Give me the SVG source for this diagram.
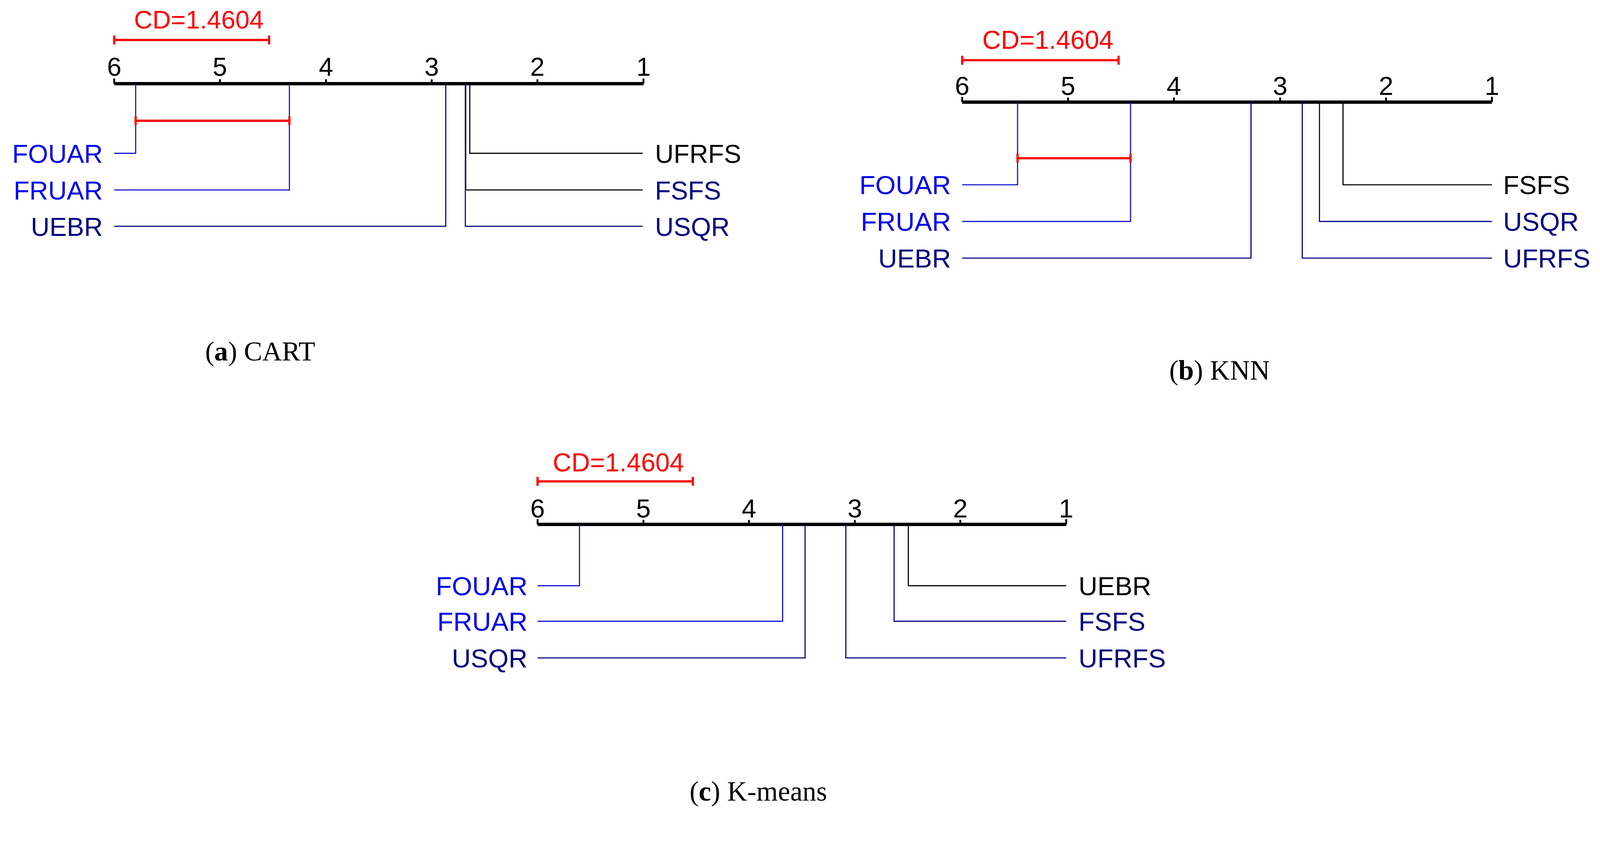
<svg xmlns="http://www.w3.org/2000/svg" width="4277" height="2179" viewBox="0 0 4277 2179">
<style>
.ax{stroke:#000;stroke-width:9;fill:none}
.tk{stroke:#000;stroke-width:5}
.num{font-family:"Liberation Sans",Arial,sans-serif;font-size:70px;fill:#000;text-anchor:middle}
.cd{font-family:"Liberation Sans",Arial,sans-serif;font-size:69px;fill:#ff0000;text-anchor:middle}
.red{stroke:#ff0000;stroke-width:6;fill:none}
.lbl{font-family:"Liberation Sans",Arial,sans-serif;font-size:70px}
.l{text-anchor:end}
.b{fill:#0000ee}.n{fill:#000080}.k{fill:#000}
.cb{stroke:#1010d0;stroke-width:3;fill:none}
.cn{stroke:#000080;stroke-width:3;fill:none}
.ck{stroke:#000;stroke-width:3;fill:none}
.cap{font-family:"Liberation Serif","Times New Roman",serif;font-size:74px;fill:#000;text-anchor:middle}
</style>
<rect width="4277" height="2179" fill="#fff"/>
<g transform="scale(0.9577)">
<g id="panelA" transform="scale(0.988 0.99)">
<text class="cd" x="538" y="77">CD=1.4604</text>
<path class="red" d="M309 108H728M309 96V120M728 96V120"/>
<path class="ax" d="M309 226H1741"/>
<path class="tk" d="M309 226V212M595 226V214M882 226V214M1168 226V214M1454 226V214M1741 226V212"/>
<text class="num" x="309" y="205">6</text><text class="num" x="595" y="205">5</text><text class="num" x="882" y="205">4</text><text class="num" x="1168" y="205">3</text><text class="num" x="1454" y="205">2</text><text class="num" x="1741" y="205">1</text>
<g id="a-connectors">
<path class="cb" d="M309 414H367V226"/>
<path class="cb" d="M309 513H783V226"/>
<path class="cn" d="M309 611H1206V226"/>
<path class="ck" d="M1739 414H1271V226"/>
<path class="ck" d="M1739 513H1260V226"/>
<path class="cn" d="M1739 611H1259V226"/>
<path class="red" d="M367 326H783M367 314V338M783 314V338"/>
</g>
<g id="a-FOUAR"><text class="lbl l b" x="278" y="440">FOUAR</text></g>
<g id="a-FRUAR"><text class="lbl l b" x="278" y="539">FRUAR</text></g>
<g id="a-UEBR"><text class="lbl l n" x="278" y="637">UEBR</text></g>
<g id="a-UFRFS"><text class="lbl k" x="1772" y="440">UFRFS</text></g>
<g id="a-FSFS"><text class="lbl n" x="1772" y="539">FSFS</text></g>
<g id="a-USQR"><text class="lbl n" x="1772" y="637">USQR</text></g>
<text class="cap" x="704" y="974">(<tspan font-weight="bold">a</tspan>) CART</text>
</g>

<g id="panelB">
<text class="cd" x="2801" y="131">CD=1.4604</text>
<path class="red" d="M2572 161H2990M2572 149V173M2990 149V173"/>
<path class="ax" d="M2572 273H3988"/>
<path class="tk" d="M2572 273V259M2855 273V261M3138 273V261M3422 273V261M3705 273V261M3988 273V259"/>
<text class="num" x="2572" y="254">6</text><text class="num" x="2855" y="254">5</text><text class="num" x="3138" y="254">4</text><text class="num" x="3422" y="254">3</text><text class="num" x="3705" y="254">2</text><text class="num" x="3988" y="254">1</text>
<g id="b-connectors">
<path class="cb" d="M2572 494H2720V273"/>
<path class="cb" d="M2572 592H3022V273"/>
<path class="cn" d="M2572 690H3344V273"/>
<path class="ck" d="M3988 494H3590V273"/>
<path class="cn" d="M3988 592H3527V273"/>
<path class="cn" d="M3988 690H3481V273"/>
<path class="red" d="M2720 423H3022M2720 411V435M3022 411V435"/>
</g>
<g id="b-FOUAR"><text class="lbl l b" x="2542" y="519">FOUAR</text></g>
<g id="b-FRUAR"><text class="lbl l b" x="2542" y="617">FRUAR</text></g>
<g id="b-UEBR"><text class="lbl l n" x="2542" y="715">UEBR</text></g>
<g id="b-FSFS"><text class="lbl k" x="4018" y="519">FSFS</text></g>
<g id="b-USQR"><text class="lbl n" x="4018" y="617">USQR</text></g>
<g id="b-UFRFS"><text class="lbl n" x="4018" y="715">UFRFS</text></g>
<text class="cap" x="3260" y="1015">(<tspan font-weight="bold">b</tspan>) KNN</text>
</g>

<g id="panelC">
<text class="cd" x="1653" y="1260">CD=1.4604</text>
<path class="red" d="M1437 1287H1852M1437 1275V1299M1852 1275V1299"/>
<path class="ax" d="M1437 1402H2850"/>
<path class="tk" d="M1437 1402V1388M1720 1402V1390M2002 1402V1390M2285 1402V1390M2567 1402V1390M2850 1402V1388"/>
<text class="num" x="1437" y="1384">6</text><text class="num" x="1720" y="1384">5</text><text class="num" x="2002" y="1384">4</text><text class="num" x="2285" y="1384">3</text><text class="num" x="2567" y="1384">2</text><text class="num" x="2850" y="1384">1</text>
<g id="c-connectors">
<path class="cb" d="M1437 1566H1549V1402"/>
<path class="cb" d="M1437 1661H2092V1402"/>
<path class="cn" d="M1437 1759H2152V1402"/>
<path class="ck" d="M2850 1566H2428V1402"/>
<path class="cn" d="M2850 1661H2390V1402"/>
<path class="cn" d="M2850 1759H2261V1402"/>
</g>
<g id="c-FOUAR"><text class="lbl l b" x="1410" y="1591">FOUAR</text></g>
<g id="c-FRUAR"><text class="lbl l b" x="1410" y="1686">FRUAR</text></g>
<g id="c-USQR"><text class="lbl l n" x="1410" y="1784">USQR</text></g>
<g id="c-UEBR"><text class="lbl k" x="2883" y="1591">UEBR</text></g>
<g id="c-FSFS"><text class="lbl n" x="2883" y="1686">FSFS</text></g>
<g id="c-UFRFS"><text class="lbl n" x="2883" y="1784">UFRFS</text></g>
<text class="cap" x="2027" y="2141">(<tspan font-weight="bold">c</tspan>) K-means</text>
</g>
</g>
</svg>
